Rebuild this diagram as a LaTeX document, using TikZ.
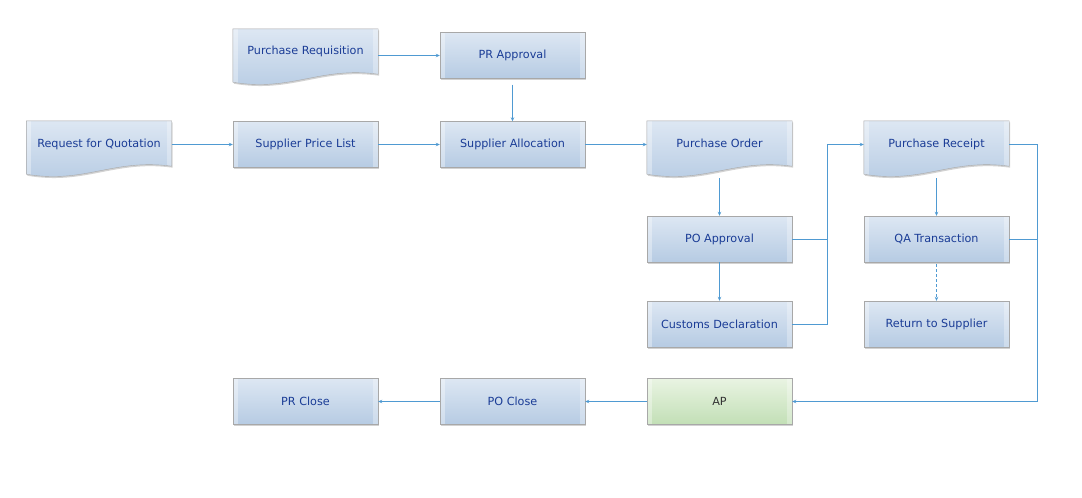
\documentclass[tikz,border=0pt]{standalone}
\usepackage{fontspec}
\newfontfamily\boxfont{DejaVu Sans}
\usetikzlibrary{arrows.meta,shadows,backgrounds,calc}
\definecolor{boxtop}{HTML}{DDE7F3}
\definecolor{boxbot}{HTML}{B6CBE3}
\definecolor{boxedge}{HTML}{A8A8A8}
\definecolor{txtblue}{HTML}{1A3C96}
\definecolor{lineblue}{HTML}{4F9AD2}
\definecolor{gtop}{HTML}{E9F4E3}
\definecolor{gbot}{HTML}{C2DFB5}
\tikzset{
  bevel/.style={path picture={
    \fill[white,opacity=0.35] (path picture bounding box.north west) rectangle ([xshift=5pt]path picture bounding box.south west);
    \fill[white,opacity=0.3] (path picture bounding box.north east) rectangle ([xshift=-5pt]path picture bounding box.south east);}},
  shad/.style={drop shadow={shadow xshift=1pt,shadow yshift=-1.5pt,opacity=0.35}},
  txt/.style={text=txtblue, font=\boxfont\fontsize{11.2}{13}\selectfont},
  proc/.style={rectangle, minimum width=145pt, minimum height=46pt, inner sep=0pt,
    draw=boxedge, top color=boxtop, bottom color=boxbot, shad, bevel, txt},
  greenproc/.style={proc, top color=gtop, bottom color=gbot, text=black!80},
  docnode/.style={rectangle, minimum width=145pt, minimum height=46pt, inner sep=0pt, txt},
  docshape/.style={draw=boxedge, top color=boxtop, bottom color=boxbot, shad, bevel},
  flow/.style={draw=lineblue, line width=0.7pt, -{Stealth[length=4pt,width=3.5pt]}},
  link/.style={draw=lineblue, line width=0.7pt},
}
\newcommand\docwave[1]{%
  \path[docshape] (#1.north west) -- (#1.north east) -- ($(#1.south east)+(0,-1)$)
    .. controls ($(#1.south west)!0.6!(#1.south east)+(0,-9)$) and ($(#1.south west)!0.4!(#1.south east)+(0,17)$)
    .. ($(#1.south west)+(0,7)$) -- cycle;}
\begin{document}
\begin{tikzpicture}[x=1pt,y=-1pt]
\useasboundingbox (0,0) rectangle (1082,498);
% document-shaped nodes
\node[docnode] (preq) at (305.5,52) {\raisebox{3pt}{Purchase Requisition}};
\node[docnode] (rfq) at (99,144) {\raisebox{2pt}{Request for Quotation}};
\node[docnode] (po) at (719.5,144) {\raisebox{2pt}{Purchase Order}};
\node[docnode] (pr) at (936.5,144) {\raisebox{2pt}{Purchase Receipt}};
\begin{scope}[on background layer]
  \fill[white] (0,0) rectangle (1082,498);
  \docwave{preq}
  \docwave{rfq}
  \docwave{po}
  \docwave{pr}
\end{scope}
% process nodes
\node[proc] (pra) at (512.5,55.5) {PR Approval};
\node[proc] (spl) at (305.5,144.5) {Supplier Price List};
\node[proc] (sa) at (512.5,144.5) {Supplier Allocation};
\node[proc] (poa) at (719.5,239) {PO Approval};
\node[proc] (qa) at (936.5,239) {QA Transaction};
\node[proc] (cd) at (719.5,324) {Customs Declaration};
\node[proc] (rs) at (936.5,324) {Return to Supplier};
\node[proc] (prc) at (305.5,401.5) {PR Close};
\node[proc] (poc) at (512.5,401.5) {PO Close};
\node[greenproc] (ap) at (719.5,401.5) {AP};
% connectors
\draw[flow] (preq.east |- pra.west) -- (pra.west);
\draw[flow] ($(pra.south)+(0,6)$) -- (sa.north);
\draw[flow] (rfq.east |- spl.west) -- (spl.west);
\draw[flow] (spl.east) -- (sa.west);
\draw[flow] (sa.east) -- (sa.east -| po.west);
\draw[flow] ($(po.south)+(0,11)$) -- (poa.north);
\draw[flow] (poa.south) -- (cd.north);
\draw[flow] (poa.east) -- ++(35,0) coordinate (j1) |- (pr.west |- sa.east);
\draw[link] (cd.east) -| (j1);
\draw[flow] ($(pr.south)+(0,11)$) -- (qa.north);
\draw[flow, dash pattern=on 3pt off 2pt] ($(qa.south)+(0,2)$) -- (rs.north);
\draw[flow] (pr.east |- sa.east) -- ++(28,0) coordinate (j2) |- (ap.east);
\draw[link] (qa.east) -- (qa.east -| j2);
\draw[flow] (ap.west) -- (poc.east);
\draw[flow] (poc.west) -- (prc.east);
\end{tikzpicture}
\end{document}
